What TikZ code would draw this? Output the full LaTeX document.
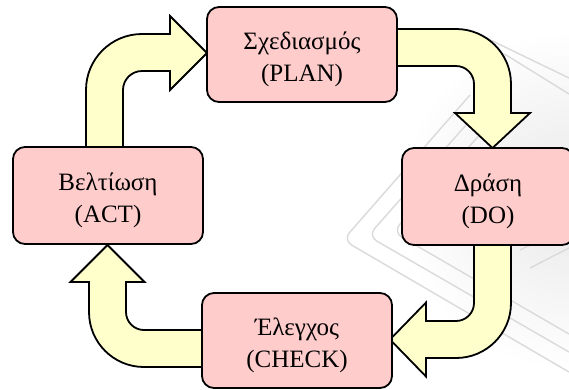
\documentclass[tikz,border=0pt]{standalone}
\usepackage{fontspec}
\setmainfont{Liberation Serif}
\definecolor{stagepink}{HTML}{FFCCCC}
\definecolor{flowyellow}{HTML}{FFFFCC}
\definecolor{markgray}{HTML}{DADADA}
% strut that lowers the two text lines slightly inside a stage box
\newcommand{\stagestrut}{\rule{0pt}{27pt}}
\begin{document}
\begin{tikzpicture}[x=1pt,y=-1pt,
  stage/.style={draw=black, line width=1.8pt, fill=stagepink,
    rounded corners=12pt, align=center, inner sep=0pt,
    minimum height=96pt, font=\fontsize{25}{32}\selectfont},
  flow/.style={draw=black, line width=1.8pt, fill=flowyellow, line join=miter},
  markline/.style={draw=markgray, line width=1.4pt, rounded corners=10pt}]
\useasboundingbox (0,0) rectangle (569,389);
\fill[white] (0,0) rectangle (569,389);

% faint background pattern
\shade[inner color=black!9, outer color=white] (569,200) circle[radius=170];
\draw[markline] (470,95) -- (343,240) -- (569,372);
\draw[markline] (481,108) -- (368,236) -- (569,352);
\draw[markline] (492,121) -- (393,232) -- (569,334);
\draw[markline] (452,62) -- (478,34) -- (569,78);
\draw[markline] (470,78) -- (498,50) -- (569,94);
\draw[markline] (520,250) -- (569,226);
\draw[markline] (530,268) -- (569,248);

% block arrows of the cycle
% Act -> Plan
\draw[flow] (86,150) -- (86,90)
  .. controls (86,59.07) and (111.07,34) .. (142,34)
  -- (170,34) -- (170,16) -- (207,53) -- (170,90) -- (170,71) -- (142,71)
  .. controls (131.5,71) and (123,79.5) .. (123,90)
  -- (123,150) -- cycle;
% Plan -> Do
\draw[flow] (394,29) -- (456,29)
  .. controls (486.4,29) and (511,53.6) .. (511,84)
  -- (511,113) -- (530,113) -- (492.5,148) -- (455,113) -- (474,113) -- (474,84)
  .. controls (474,74.06) and (465.94,66) .. (456,66)
  -- (394,66) -- cycle;
% Do -> Check
\draw[flow] (474,242) -- (474,303)
  .. controls (474,312.94) and (465.94,321) .. (456,321)
  -- (426,321) -- (426,302.5) -- (390,339.5) -- (426,376.5) -- (426,358) -- (456,358)
  .. controls (486.4,358) and (511,333.4) .. (511,303)
  -- (511,242) -- cycle;
% Check -> Act
\draw[flow] (205,330) -- (144,330)
  .. controls (134.06,330) and (126,321.94) .. (126,312)
  -- (126,282) -- (144.5,282) -- (107.5,245) -- (70.5,282) -- (89,282) -- (89,312)
  .. controls (89,342.4) and (113.6,367) .. (144,367)
  -- (205,367) -- cycle;

% stages
\node[stage, minimum width=190pt, minimum height=95pt] (plan) at (302,54.5)
  {\stagestrut Σχεδιασμός\\(PLAN)};
\node[stage, minimum width=172pt, minimum height=97pt] (do) at (488,196.5)
  {\stagestrut Δράση\\(DO)};
\node[stage, minimum width=190pt, minimum height=95pt] (check) at (297,340.5)
  {\stagestrut Έλεγχος\\(CHECK)};
\node[stage, minimum width=190pt, minimum height=97pt] (act) at (108,195.5)
  {\stagestrut Βελτίωση\\(ACT)};
\end{tikzpicture}
\end{document}
